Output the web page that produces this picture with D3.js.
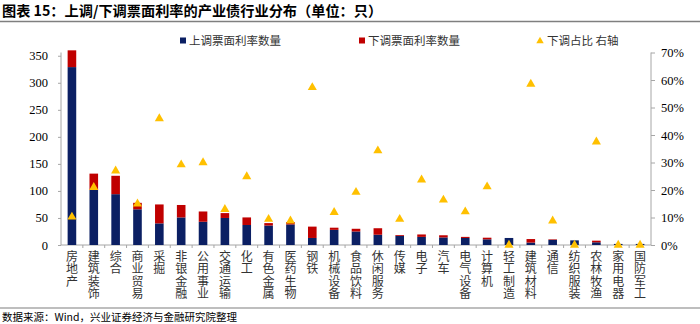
<!DOCTYPE html>
<html><head><meta charset="utf-8">
<script src="https://cdn.jsdelivr.net/npm/d3@7"></script>
<style>
html,body{margin:0;padding:0;background:#fff;}
svg{display:block;}
.vt{writing-mode:vertical-rl;text-orientation:upright;}
</style></head>
<body>
<svg id="c" width="700" height="324"></svg>
<script>
const categories = ["房地产","建筑装饰","综合","商业贸易","采掘","非银金融","公用事业","交通运输","化工","有色金属","医药生物","钢铁","机械设备","食品饮料","休闲服务","传媒","电子","汽车","电气设备","计算机","轻工制造","建筑材料","通信","纺织服装","农林牧渔","家用电器","国防军工"];
const upCount =   [329,102,94,66,40,51,43,50,37,36,38,13,28,25,19,17,15,14,13,10.5,13,4.5,9.5,8.6,5,2,2];
const downCount = [31,30,34,12,35,23,19,9,14,4.5,4.5,21,4,5,12,1.5,4.5,4,2,3,0,6.5,1,0,3,0,0];
const downRatio = [10.2,21,27,15,46,29.2,30,13,24.9,9.4,8.8,57.3,11.9,19.2,34.3,9.4,23.7,16.4,12.1,21.2,0,58.5,8.8,0,37.5,0,0];
const leftTicks = [0,50,100,150,200,250,300,350];
const rightTicks = [0,10,20,30,40,50,60,70];
const seriesNames = ["上调票面利率数量","下调票面利率数量","下调占比 右轴"];
const title = "图表 15：上调/下调票面利率的产业债行业分布（单位：只）";
const source = "数据来源：Wind，兴业证券经济与金融研究院整理";

const NAVY = "#0b1f63", RED = "#c00000", GOLD = "#ffc000", AXIS = "#a6a6a6";
const CJK = "'Noto Sans CJK SC', sans-serif";
const SERIF = "'Liberation Serif', 'Times New Roman', serif";

const svg = d3.select("#c");
const x0 = 61, x1 = 651, yBase = 245, yTop = 52.5;

const x = d3.scaleBand().domain(categories).range([x0, x1]).padding(0);
const yL = d3.scaleLinear().domain([0, 356]).range([yBase, yTop]);
const yR = d3.scaleLinear().domain([0, 70]).range([yBase, yTop]);

// title
svg.append("text").attr("x", 2).attr("y", 16).attr("font-family", CJK)
  .attr("font-weight", "bold").attr("font-size", 14.2).attr("fill", "#000").text(title);
svg.append("line").attr("x1", 0).attr("x2", 700).attr("y1", 21.5).attr("y2", 21.5)
  .attr("stroke", "#7f7f7f").attr("stroke-width", 1.5);

// axes
const gL = svg.append("g").attr("transform", `translate(${x0},0)`)
  .call(d3.axisLeft(yL).tickValues(leftTicks).tickSize(3).tickPadding(10));
const gR = svg.append("g").attr("transform", `translate(${x1},0)`)
  .call(d3.axisRight(yR).tickValues(rightTicks).tickSize(4).tickPadding(6).tickFormat(d => d + "%"));
[gL, gR].forEach(g => {
  g.select(".domain").attr("stroke", AXIS).attr("d", `M0,${yTop}V${yBase}`);
  g.selectAll(".tick line").attr("stroke", AXIS);
  g.selectAll(".tick text").attr("font-family", SERIF).attr("font-size", 12.5).attr("fill", "#000");
});

// bottom axis line + ticks between categories
svg.append("line").attr("x1", x0).attr("x2", x1).attr("y1", yBase).attr("y2", yBase).attr("stroke", AXIS);
svg.append("g").selectAll("line").data(categories.slice(1)).join("line")
  .attr("x1", d => x(d)).attr("x2", d => x(d)).attr("y1", yBase).attr("y2", yBase + 3).attr("stroke", AXIS);

// bars
const bw = 8.6;
const gb = svg.append("g");
categories.forEach((c, i) => {
  const cx = x(c) + x.bandwidth() / 2;
  gb.append("rect").attr("x", cx - bw / 2).attr("width", bw)
    .attr("y", yL(upCount[i])).attr("height", yBase - yL(upCount[i])).attr("fill", NAVY);
  if (downCount[i] > 0)
    gb.append("rect").attr("x", cx - bw / 2).attr("width", bw)
      .attr("y", yL(upCount[i] + downCount[i])).attr("height", yL(upCount[i]) - yL(upCount[i] + downCount[i])).attr("fill", RED);
});

// triangles
const tri = d3.symbol().type(d3.symbolTriangle).size(36);
svg.append("g").selectAll("path").data(downRatio).join("path")
  .attr("d", tri)
  .attr("transform", (d, i) => `translate(${x(categories[i]) + x.bandwidth() / 2},${yR(d)})`)
  .attr("fill", GOLD);

// x labels: one vertical text per character
const gx = svg.append("g").attr("font-family", CJK).attr("font-size", 12).attr("fill", "#333");
categories.forEach(c => {
  const cx = x(c) + x.bandwidth() / 2;
  [...c].forEach((ch, j) => {
    gx.append("text").attr("class", "vt").attr("x", cx).attr("y", 250 + j * 12.6).text(ch);
  });
});

// legend
const lg = svg.append("g").attr("font-family", CJK).attr("font-size", 11.5).attr("fill", "#333");
lg.append("rect").attr("x", 180).attr("y", 37.5).attr("width", 6).attr("height", 6).attr("fill", NAVY);
lg.append("text").attr("x", 189).attr("y", 45).text(seriesNames[0]);
lg.append("rect").attr("x", 359).attr("y", 37.5).attr("width", 6).attr("height", 6).attr("fill", RED);
lg.append("text").attr("x", 368).attr("y", 45).text(seriesNames[1]);
lg.append("path").attr("d", d3.symbol().type(d3.symbolTriangle).size(24))
  .attr("transform", "translate(540,41)").attr("fill", GOLD);
lg.append("text").attr("x", 547).attr("y", 45).text(seriesNames[2]);

// footer
svg.append("line").attr("x1", 0).attr("x2", 700).attr("y1", 308).attr("y2", 308)
  .attr("stroke", "#7f7f7f").attr("stroke-width", 1.2);
svg.append("text").attr("x", 2).attr("y", 321).attr("font-family", CJK).attr("font-size", 10.5)
  .attr("fill", "#000").text(source);
</script>
</body></html>
